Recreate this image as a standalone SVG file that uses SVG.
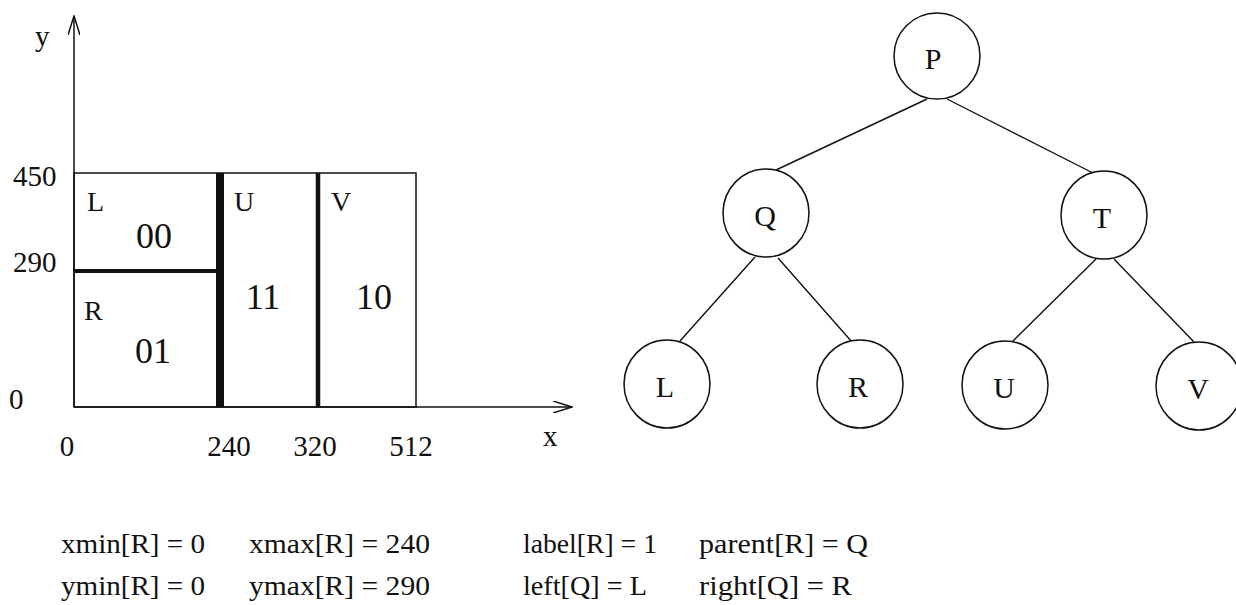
<svg xmlns="http://www.w3.org/2000/svg" width="1236" height="605" viewBox="0 0 1236 605">
  <style>
    .t { font-family: "Liberation Serif", "Times New Roman", serif; fill: #111; }
    .ax { stroke: #111; stroke-width: 1.5; fill: none; }
    .box { stroke: #111; stroke-width: 1.5; fill: none; }
    .node ellipse { fill: #fff; stroke: #111; stroke-width: 1.5; }
    .node text { font-family: "Liberation Serif", "Times New Roman", serif; font-size: 30px; text-anchor: middle; fill: #111; }
    .edge { stroke: #111; stroke-width: 1.4; }
  </style>
  <defs>
    <marker id="open" viewBox="0 0 20 12" refX="19" refY="6" markerWidth="20" markerHeight="12" markerUnits="userSpaceOnUse" orient="auto">
      <path d="M0,0 L19,6 L0,12" fill="none" stroke="#111" stroke-width="1.5"/>
    </marker>
  </defs>
  <rect width="1236" height="605" fill="#fff"/>

  <!-- coordinate plane -->
  <g id="plane">
    <line class="ax" x1="74" y1="407" x2="74" y2="16" marker-end="url(#open)"/>
    <line class="ax" x1="74" y1="407" x2="572" y2="407" marker-end="url(#open)"/>
    <rect class="box" x="74" y="173" width="342" height="234"/>
    <line x1="220" y1="173" x2="220" y2="407" stroke="#111" stroke-width="8"/>
    <line x1="318" y1="173" x2="318" y2="407" stroke="#111" stroke-width="4.5"/>
    <line x1="74" y1="271" x2="220" y2="271" stroke="#111" stroke-width="4"/>

    <g class="t" font-size="29">
      <text x="35" y="46">y</text>
      <text x="13" y="186">450</text>
      <text x="13" y="272">290</text>
      <text x="9" y="409">0</text>
      <text x="543" y="446">x</text>
      <text x="67" y="456" text-anchor="middle">0</text>
      <text x="229" y="456" text-anchor="middle">240</text>
      <text x="315" y="456" text-anchor="middle">320</text>
      <text x="411" y="456" text-anchor="middle">512</text>
    </g>
    <g class="t" font-size="28">
      <text x="87" y="211">L</text>
      <text x="234" y="211">U</text>
      <text x="331" y="211">V</text>
      <text x="84" y="320">R</text>
    </g>
    <g class="t" font-size="36" text-anchor="middle">
      <text x="154" y="248">00</text>
      <text x="153" y="363">01</text>
      <text x="263" y="309">11</text>
      <text x="374" y="309">10</text>
    </g>
  </g>

  <!-- tree edges -->
  <g id="edges">
    <line class="edge" x1="927" y1="99" x2="776" y2="170"/>
    <line class="edge" x1="947" y1="99" x2="1093" y2="173"/>
    <line class="edge" x1="755" y1="257" x2="680" y2="341"/>
    <line class="edge" x1="778" y1="258" x2="852" y2="342"/>
    <line class="edge" x1="1096" y1="259" x2="1012" y2="342"/>
    <line class="edge" x1="1114" y1="259" x2="1194" y2="342"/>
  </g>

  <!-- tree nodes -->
  <g id="node-P" class="node"><ellipse cx="937" cy="56" rx="43" ry="43"/><text x="933" y="69">P</text></g>
  <g id="node-Q" class="node"><ellipse cx="766" cy="213" rx="43" ry="44"/><text x="765" y="226">Q</text></g>
  <g id="node-T" class="node"><ellipse cx="1104" cy="215" rx="43" ry="44"/><text x="1102" y="228">T</text></g>
  <g id="node-L" class="node"><ellipse cx="667" cy="384" rx="43" ry="44"/><text x="665" y="397">L</text></g>
  <g id="node-R" class="node"><ellipse cx="860" cy="384" rx="43" ry="44"/><text x="858" y="397">R</text></g>
  <g id="node-U" class="node"><ellipse cx="1005" cy="385" rx="43" ry="44"/><text x="1004" y="398">U</text></g>
  <g id="node-V" class="node"><ellipse cx="1199" cy="386" rx="43" ry="44"/><text x="1198" y="399">V</text></g>

  <!-- field values -->
  <g id="fields" class="t" font-size="27">
    <text x="61" y="553" textLength="144" lengthAdjust="spacingAndGlyphs">xmin[R] = 0</text>
    <text x="249" y="553" textLength="181" lengthAdjust="spacingAndGlyphs">xmax[R] = 240</text>
    <text x="523" y="553" textLength="134" lengthAdjust="spacingAndGlyphs">label[R] = 1</text>
    <text x="699" y="553" textLength="169" lengthAdjust="spacingAndGlyphs">parent[R] = Q</text>
    <text x="61" y="595" textLength="144" lengthAdjust="spacingAndGlyphs">ymin[R] = 0</text>
    <text x="249" y="595" textLength="181" lengthAdjust="spacingAndGlyphs">ymax[R] = 290</text>
    <text x="523" y="595" textLength="124" lengthAdjust="spacingAndGlyphs">left[Q] = L</text>
    <text x="699" y="595" textLength="153" lengthAdjust="spacingAndGlyphs">right[Q] = R</text>
  </g>
</svg>
